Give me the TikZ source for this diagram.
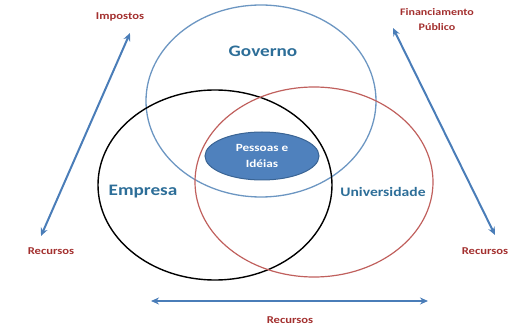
\documentclass[tikz,border=0pt]{standalone}
\usepackage{fontspec}
\usepackage{tikz}
\usepackage{xcolor}
\usetikzlibrary{positioning,shapes,arrows.meta}
\newfontfamily\calib[FakeStretch=1.2]{Carlito}

\definecolor{setaazul}{HTML}{4A7DB8}
\definecolor{rotulovermelho}{HTML}{A3302F}
\definecolor{textoazul}{HTML}{2D6E98}
\definecolor{bordagov}{HTML}{6C96C2}
\definecolor{bordauni}{HTML}{C0605D}
\definecolor{pessoasfill}{HTML}{4F81BD}
\definecolor{pessoasborda}{HTML}{3A6494}

\begin{document}
\begin{tikzpicture}[x=1pt,y=-1pt]
\tikzstyle{every node}+=[inner sep=0pt]
\tikzstyle{recurso}=[text=rotulovermelho,font=\calib\bfseries\fontsize{10.5}{12}\selectfont,align=center]
\tikzstyle{setor}=[text=textoazul,font=\calib\bfseries\fontsize{16}{18}\selectfont]
\tikzstyle{seta}=[setaazul,line width=2pt,{Stealth[length=8pt,width=7pt]}-{Stealth[length=8pt,width=7pt]}]
\useasboundingbox (0,0) rectangle (520,331);
% circulos
\draw [bordagov,line width=1.3pt] (261,101) ellipse (115 and 96);
\draw [black,line width=1.4pt] (215,185) ellipse (117 and 95);
\draw [bordauni,line width=1.2pt] (314,182) ellipse (119 and 95);
\node (pessoas) [ellipse,draw=pessoasborda,line width=1pt,fill=pessoasfill,minimum width=114,minimum height=48,text=white,align=center,font=\calib\bfseries\fontsize{11}{16}\selectfont] at (262,156) {Pessoas e\\Idéias};
% nomes
\node (governo) [setor] at (263,51) {Governo};
\node (empresa) [setor] at (143,192) {Empresa};
\node (universidade) [setor,font=\calib\bfseries\fontsize{13}{15}\selectfont] at (383,192) {Universidade};
% rotulos
\node (impostos) [recurso] at (120,17) {Impostos};
\node (financiamento) [recurso,font=\calib\bfseries\fontsize{10}{15}\selectfont] at (437,20) {Financiamento\\Público};
\node (recesq) [recurso] at (51,251) {Recursos};
\node (recdir) [recurso] at (485,251) {Recursos};
\node (recbaixo) [recurso] at (290,320) {Recursos};
% setas
\coordinate (e1) at (130,33);
\coordinate (e2) at (41,236);
\coordinate (d1) at (393,28);
\coordinate (d2) at (495,235);
\coordinate (b1) at (151,301);
\coordinate (b2) at (428,301);
\draw [seta] (e1) -- (e2);
\draw [seta] (d1) -- (d2);
\draw [seta] (b1) -- (b2);
\end{tikzpicture}
\end{document}
